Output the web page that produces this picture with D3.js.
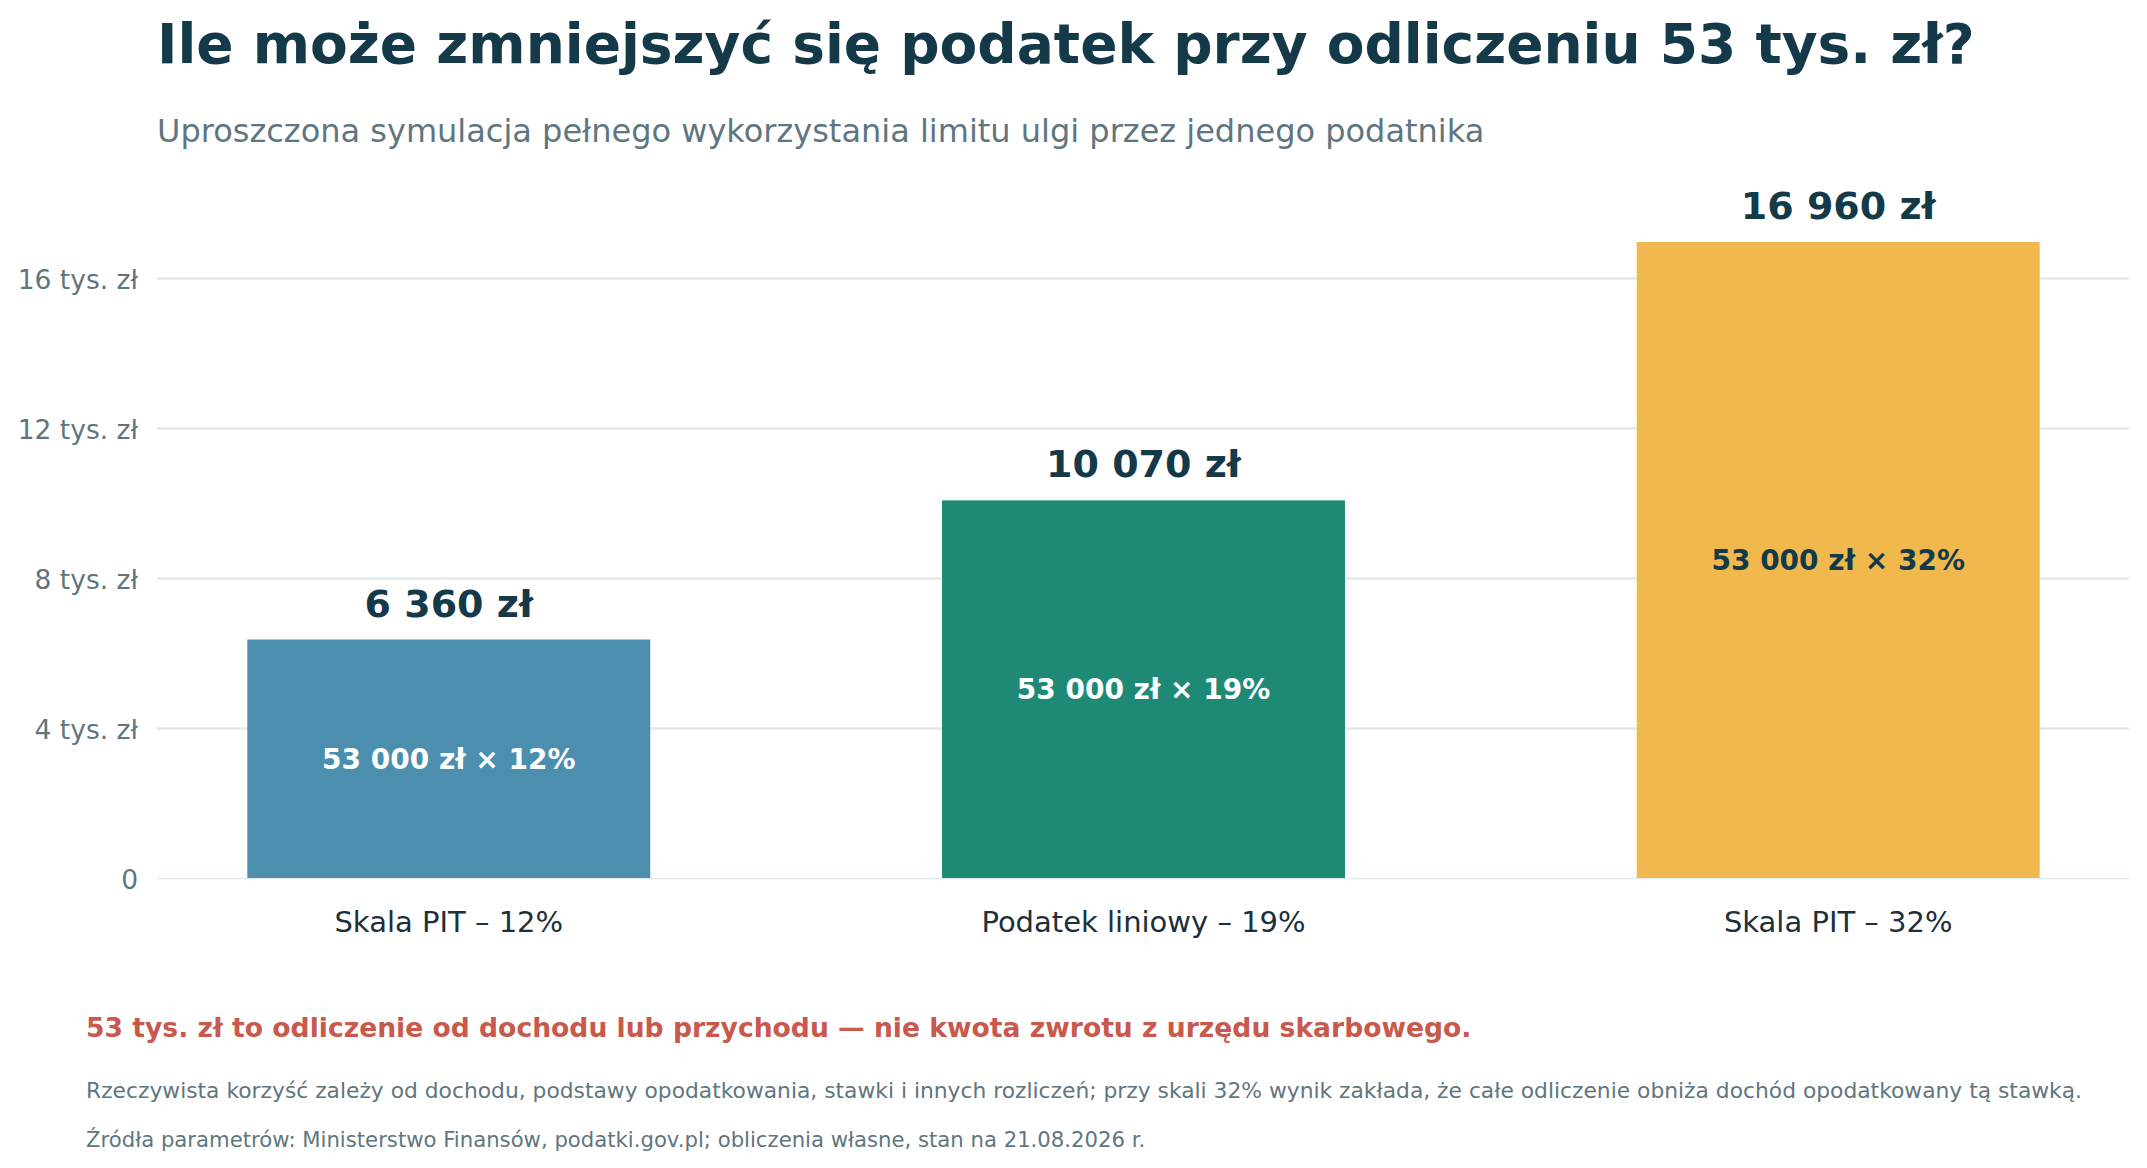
<!DOCTYPE html>
<html><head><meta charset="utf-8">
<script src="https://cdn.jsdelivr.net/npm/d3@7"></script>
<style>
html,body{margin:0;padding:0;background:#fff;}
text{font-family:"DejaVu Sans",sans-serif;}
</style></head>
<body>
<svg id="c" width="2147" height="1168"></svg>
<script>
const categories = ["Skala PIT – 12%", "Podatek liniowy – 19%", "Skala PIT – 32%"];
const values = [6360, 10070, 16960];
const valueLabels = ["6 360 zł", "10 070 zł", "16 960 zł"];
const innerLabels = ["53 000 zł × 12%", "53 000 zł × 19%", "53 000 zł × 32%"];
const barColors = ["#4b8eae", "#1e8a76", "#f0b84d"];
const innerColors = ["#ffffff", "#ffffff", "#143a4a"];
const yTicks = [0, 4000, 8000, 12000, 16000];
const yTickLabels = ["0", "4 tys. zł", "8 tys. zł", "12 tys. zł", "16 tys. zł"];

const svg = d3.select("#c");
const left = 157, right = 2130, bottom = 878;

const x = d3.scaleBand().domain(categories).range([left, right]).paddingInner(0.42).paddingOuter(0.13);
const y = d3.scaleLinear().domain([0, 18000]).range([bottom, bottom - 18 * 37.5]);

svg.append("text").attr("x", 157).attr("y", 63)
  .attr("font-size", 55).attr("font-weight", "bold").attr("fill", "#143a4a")
  .text("Ile może zmniejszyć się podatek przy odliczeniu 53 tys. zł?");
svg.append("text").attr("x", 157).attr("y", 142)
  .attr("font-size", 32).attr("fill", "#5f7680")
  .text("Uproszczona symulacja pełnego wykorzystania limitu ulgi przez jednego podatnika");

// grid
const yAxis = d3.axisLeft(y).tickValues(yTicks).tickSize(-(right - left - 1))
  .tickFormat((d, i) => yTickLabels[i]).tickPadding(19);
const gy = svg.append("g").attr("transform", `translate(${left},0)`).call(yAxis);
gy.select(".domain").remove();
gy.selectAll(".tick line").attr("stroke", "#e0eaea").attr("stroke-width", d => d === 0 ? 1.5 : 2.5);
gy.selectAll(".tick text").attr("font-size", 26.5).attr("fill", "#5f7680").attr("font-family", "DejaVu Sans")
  .attr("dy", "0.38em");

// bars
svg.selectAll("rect.bar").data(categories).join("rect").attr("class", "bar")
  .attr("x", d => x(d)).attr("width", x.bandwidth())
  .attr("y", (d, i) => y(values[i])).attr("height", (d, i) => y(0) - y(values[i]))
  .attr("fill", (d, i) => barColors[i]);

svg.selectAll("text.val").data(categories).join("text").attr("class", "val")
  .attr("x", d => x(d) + x.bandwidth() / 2).attr("y", (d, i) => y(values[i]) - 23)
  .attr("text-anchor", "middle").attr("font-size", 38).attr("font-weight", "bold").attr("fill", "#143a4a")
  .text((d, i) => valueLabels[i]);

svg.selectAll("text.inner").data(categories).join("text").attr("class", "inner")
  .attr("x", d => x(d) + x.bandwidth() / 2).attr("y", (d, i) => (y(values[i]) + y(0)) / 2)
  .attr("dy", "0.36em")
  .attr("text-anchor", "middle").attr("font-size", 28).attr("font-weight", "bold")
  .attr("fill", (d, i) => innerColors[i])
  .text((d, i) => innerLabels[i]);

// x axis labels
const xAxis = d3.axisBottom(x).tickSize(0).tickPadding(33);
const gx = svg.append("g").attr("transform", `translate(0,${bottom})`).call(xAxis);
gx.select(".domain").remove();
gx.selectAll(".tick text").attr("font-size", 29).attr("fill", "#1c2f3a").attr("font-family", "DejaVu Sans");

// footer
svg.append("text").attr("x", 86).attr("y", 1037)
  .attr("font-size", 26.6).attr("font-weight", "bold").attr("fill", "#c8594c")
  .text("53 tys. zł to odliczenie od dochodu lub przychodu — nie kwota zwrotu z urzędu skarbowego.");
svg.append("text").attr("x", 86).attr("y", 1098)
  .attr("font-size", 21.8).attr("fill", "#5f7680")
  .text("Rzeczywista korzyść zależy od dochodu, podstawy opodatkowania, stawki i innych rozliczeń; przy skali 32% wynik zakłada, że całe odliczenie obniża dochód opodatkowany tą stawką.");
svg.append("text").attr("x", 86).attr("y", 1147)
  .attr("font-size", 21.2).attr("fill", "#5f7680")
  .text("Źródła parametrów: Ministerstwo Finansów, podatki.gov.pl; obliczenia własne, stan na 21.08.2026 r.");
</script>
</body></html>
